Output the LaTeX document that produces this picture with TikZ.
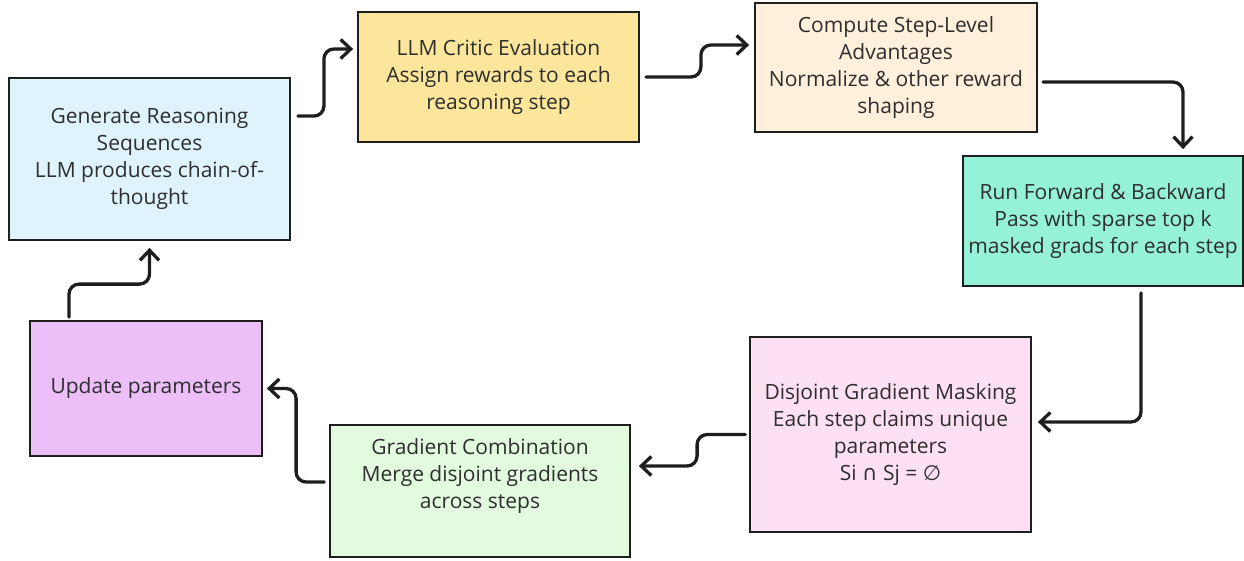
\documentclass[tikz,border=0pt]{standalone}
\usepackage{fontspec}
\setmainfont{Open Sans}
\newfontfamily\symfont{DejaVu Sans}
\usetikzlibrary{arrows.meta,calc}
\definecolor{cgen}{HTML}{DFF3FC}
\definecolor{ccrit}{HTML}{FBE69B}
\definecolor{ccomp}{HTML}{FFF0DC}
\definecolor{crun}{HTML}{96F2D7}
\definecolor{cdis}{HTML}{FDE0F3}
\definecolor{cgrad}{HTML}{E2FBDF}
\definecolor{cupd}{HTML}{ECBFF8}
\definecolor{cline}{HTML}{1E1E1E}
\definecolor{ctext}{HTML}{2E2E2E}
\tikzset{
  box/.style={draw=cline, line width=1.8pt, inner sep=0pt, align=center,
    text=ctext, font=\fontsize{21}{27}\selectfont},
  arr/.style={draw=cline, line width=3.3pt, line cap=round, line join=round,
    rounded corners=10pt, -{Straight Barb[length=10pt,width=19pt,line width=3.3pt]}},
}
\begin{document}
\begin{tikzpicture}[x=1pt,y=-1pt]
\useasboundingbox (0,0) rectangle (1244,561);
\node[box, fill=cgen, minimum width=281pt, minimum height=162pt] (gen) at (149.5,159)
  {Generate Reasoning\\Sequences\\LLM produces chain-of-\\thought};
\node[box, fill=ccrit, minimum width=281pt, minimum height=130pt] (crit) at (498.5,77)
  {LLM Critic Evaluation\\Assign rewards to each\\reasoning step};
\node[box, fill=ccomp, minimum width=282pt, minimum height=129pt] (comp) at (896,67.5)
  {Compute Step-Level\\Advantages\\Normalize \& other reward\\shaping};
\node[box, fill=crun, minimum width=280pt, minimum height=130pt] (run) at (1103,221)
  {Run Forward \& Backward\\Pass with sparse top k\\masked grads for each step};
\node[box, fill=cdis, minimum width=281pt, minimum height=195pt] (dis) at (890.5,434.5)
  {Disjoint Gradient Masking\\Each step claims unique\\parameters\\Si {\symfont ∩} Sj = {\symfont ∅}};
\node[box, fill=cgrad, minimum width=300pt, minimum height=132pt] (grad) at (480,491)
  {Gradient Combination\\Merge disjoint gradients\\across steps\\[0pt]\strut};
\node[box, fill=cupd, minimum width=232pt, minimum height=135pt] (upd) at (146,388.5)
  {Update parameters};
% connectors
\draw[arr] ($(gen.north east)+(7,39)$) -- ++(26,0) |- ($(crit.west)+(-4,-28)$);
\draw[arr] ($(crit.east)+(6,0)$) -- ++(55,0) |- ($(comp.west)+(-5,-22.5)$);
\draw[arr] ($(comp.east)+(5,14.5)$) -| ($(run.north)+(80,-6)$);
\draw[arr] ($(run.south)+(38,6)$) |- ($(dis.east)+(6,-12.5)$);
\draw[arr] ($(dis.west)+(-4,0)$) -- ++(-48,0) |- ($(grad.east)+(8,-25)$);
\draw[arr] ($(grad.west)+(-5,-9)$) -- ++(-28,0) |- ($(upd.east)+(4,0)$);
\draw[arr] ($(upd.north)+(-77,-3)$) -- ++(0,-33) -| ($(gen.south)+(0,7)$);
\end{tikzpicture}
\end{document}
